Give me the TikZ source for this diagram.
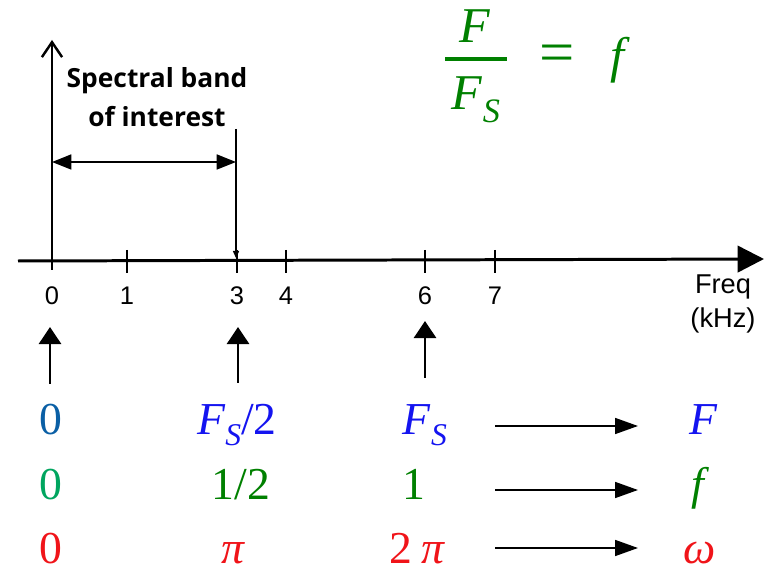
\documentclass[tikz,border=0pt]{standalone}
\usepackage{fontspec}
\setmainfont{Liberation Serif}
\setsansfont{Liberation Sans}
\newfontfamily\bandfont{Open Sans}
\usetikzlibrary{arrows.meta}

\definecolor{fblue}{RGB}{20,20,240}
\definecolor{zblue}{RGB}{10,95,165}
\definecolor{fgreen}{RGB}{0,128,0}
\definecolor{zgreen}{RGB}{0,165,95}
\definecolor{wred}{RGB}{240,20,25}

\newcommand{\lowsub}[2][18]{\raisebox{-0.24em}{\fontsize{#1}{#1}\selectfont\itshape #2}}

\begin{document}
\begin{tikzpicture}[x=0.02cm, y=-0.02cm,
    axis/.style={line width=1.7pt},
    tickmark/.style={line width=1.1pt},
    ticklbl/.style={anchor=base, font=\sffamily\fontsize{14.5}{17}\selectfont},
    val/.style={anchor=base, inner sep=0.5pt, font=\fontsize{26}{30}\selectfont},
    eqn/.style={anchor=base, text=fgreen, font=\fontsize{28.5}{34}\selectfont},
    uparrow/.style={line width=1.7pt, -{Triangle[length=9.7pt, width=12.5pt]}},
    maparrow/.style={line width=1.1pt, -{Triangle[length=13pt, width=9pt]}},
    band/.style={line width=1.1pt, {Triangle[length=11pt, width=8.5pt]}-{Triangle[length=11pt, width=8.5pt]}},
]
\useasboundingbox (0,0) rectangle (767,573);

% axes
\coordinate (xstart) at (18,261);
\coordinate (xend) at (764,259);
\coordinate (origin) at (52,270);
\coordinate (ytop) at (52,40);
\draw[axis, -{Triangle[length=15pt, width=15pt]}] (xstart) -- (xend);
\draw[line width=1.4pt, -{Straight Barb[length=8.5pt, width=11.5pt]}] (origin) -- (ytop);

\foreach \x in {127,237,286,425,495}
  \draw[tickmark] (\x,250) -- (\x,273);
\foreach \v/\x in {0/52,1/127,3/237,4/286,6/425,7/495}
  \node[ticklbl] (t\v) at (\x,305) {\v};
\node[font=\sffamily\fontsize{15.5}{19}\selectfont, align=center] (freq) at (723,304) {Freq\\(kHz)};

% band of interest
\node[font=\bandfont\bfseries\fontsize{15}{22.5}\selectfont, align=center] (bandtxt) at (157,97) {Spectral band\\of interest};
\coordinate (bandL) at (52,162);
\coordinate (bandR) at (236,162);
\draw[band] (bandL) -- (bandR);
\coordinate (fsTop) at (236,129);
\coordinate (fsBot) at (236,258);
\draw[line width=0.6pt, -{Triangle[length=4pt, width=3.5pt]}] (fsTop) -- (fsBot);

% pointers
\foreach \n/\x/\yt/\yb in {a/50/327/384, b/238/327/383, c/425/321/378} {
  \coordinate (\n bot) at (\x,\yb);
  \coordinate (\n tip) at (\x,\yt);
  \draw[uparrow] (\n bot) -- (\n tip);
}

% F row
\node[val, zblue] (zF) at (51,435) {0};
\node[val, fblue] (halfF) at (237,435) {\textit{F}\lowsub{S}/2};
\node[val, fblue] (fullF) at (425,435) {\textit{F}\lowsub{S}};
\node[val, fblue] (symF) at (704,435) {\textit{F}};
% f row
\node[val, zgreen] (zf) at (51,500) {0};
\node[val, fgreen] (halff) at (241,500) {1/2};
\node[val, fgreen] (fullf) at (414,500) {1};
\node[val, fgreen] (symf) at (700,500) {\textit{f}};
% omega row
\node[val, wred] (zw) at (51,563) {0};
\node[val, wred] (halfw) at (233,563) {\textit{π}};
\node[val, wred] (fullw) at (417,563) {2\hspace{0.2em}\textit{π}};
\node[val, wred] (symw) at (700,563) {\textit{ω}};

\foreach \r/\y in {1/426, 2/490, 3/548} {
  \coordinate (m\r s) at (495,\y);
  \coordinate (m\r e) at (638,\y);
  \draw[maparrow] (m\r s) -- (m\r e);
}

% F / F_S = f
\node[eqn] (num) at (475,43) {\textit{F}};
\node[eqn] (den) at (476,110) {\textit{F}\lowsub[19.5]{S}};
\coordinate (barL) at (445,59);
\coordinate (barR) at (507,59);
\draw[fgreen, line width=2.2pt] (barL) -- (barR);
\node[eqn] (eq) at (557,73) {\scalebox{1.25}[1.2]{=}};
\node[eqn] (rhs) at (620,73) {\textit{f}};
\end{tikzpicture}
\end{document}
